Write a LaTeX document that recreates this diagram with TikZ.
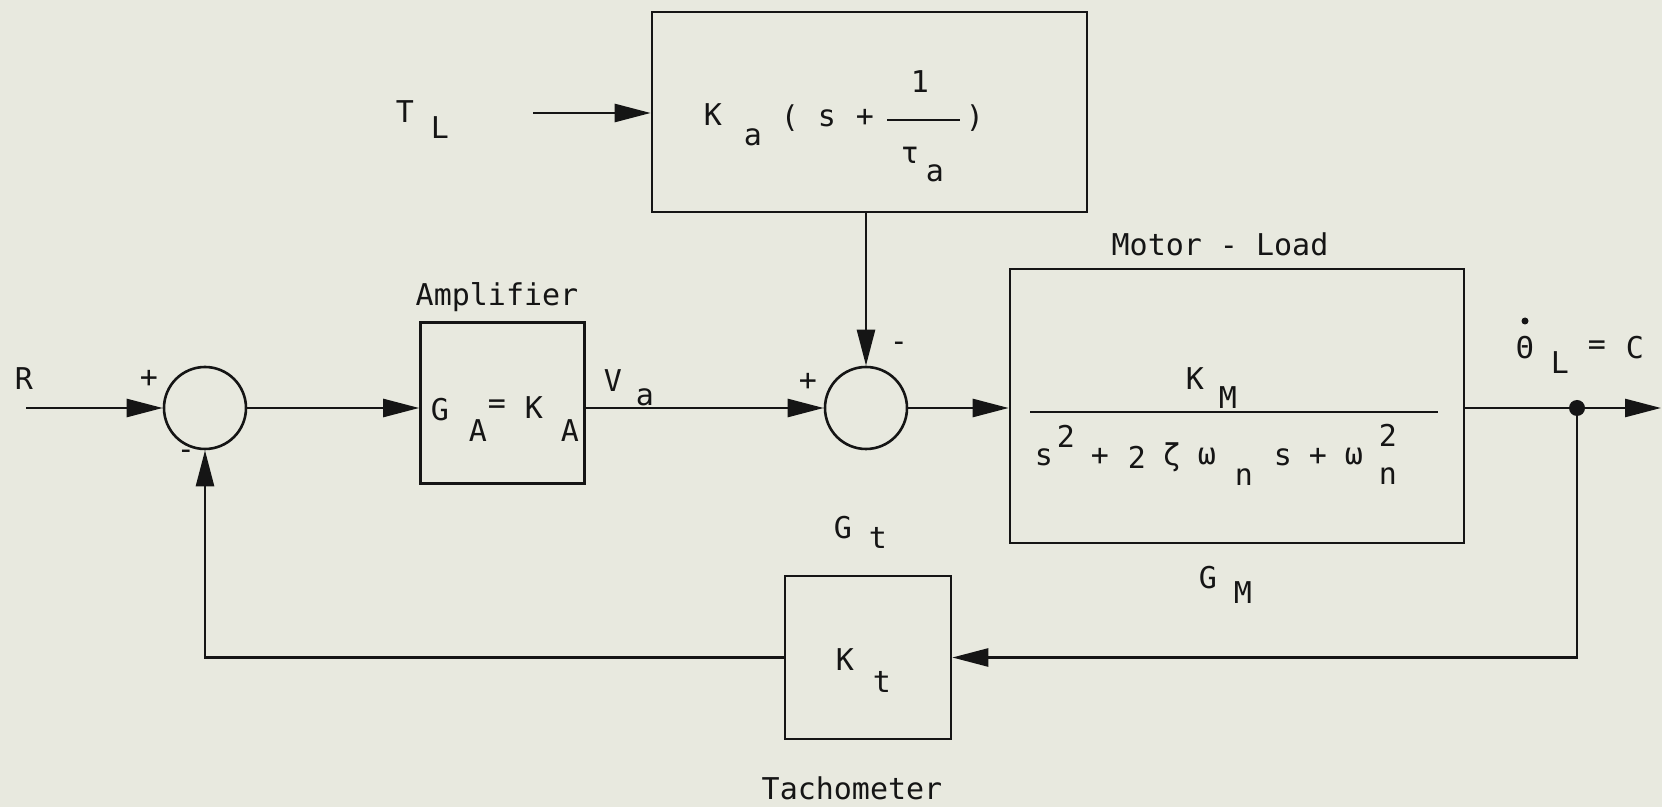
\documentclass[tikz,border=0pt]{standalone}
\usepackage{fontspec}
\setmainfont{DejaVu Sans Mono}
\usetikzlibrary{arrows.meta}
\definecolor{paper}{HTML}{E8E9DF}
\definecolor{ink}{HTML}{151515}
\begin{document}
\begin{tikzpicture}[x=0.5pt,y=-0.5pt,line width=1.3pt,color=ink,
  txt/.style={inner sep=0pt,font=\fontsize{15}{18}\selectfont,text=ink},
  blk/.style={draw=ink,rectangle,inner sep=0pt},
  sumc/.style={draw=ink,circle,inner sep=0pt,minimum size=41pt},
  arr/.style={-{Triangle[length=18pt,width=9pt]}}]
\fill[paper] (0,0) rectangle (1662,807);
\useasboundingbox (0,0) rectangle (1662,807);
% blocks
\node[blk,minimum width=217.5pt,minimum height=100pt] (top) at (869.5,112) {};
\node[blk,minimum width=82pt,minimum height=80.5pt] (amp) at (502.5,403) {};
\node[blk,minimum width=227pt,minimum height=137pt] (motor) at (1237,406) {};
\node[blk,minimum width=83pt,minimum height=81.5pt] (tach) at (868,657.5) {};
\node[sumc] (s1) at (205,408) {};
\node[sumc] (s2) at (866,408) {};
% free ends
\coordinate (rin) at (26,408);
\coordinate (tlin) at (533,113);
\coordinate (jn) at (1577,408);
\coordinate (out) at (1661,408);
% connectors
\draw[arr] (rin) -- (s1.west);
\draw[arr] (s1.east) -- (s1.east -| amp.west);
\draw[arr] (s2.west -| amp.east) -- (s2.west);
\draw[arr] (s2.east) -- (s2.east -| motor.west);
\draw (s2.east -| motor.east) -- (jn);
\draw[arr] (jn) -- (out);
\draw[arr] (jn) |- (tach.east);
\draw[arr] (tach.west) -| (s1.south);
\draw[arr] (tlin) -- (tlin -| top.west);
\draw[arr] (s2.north |- top.south) -- (s2.north);
\fill (jn) circle (8);
% labels
\node[txt] (lR) at (24,379) {R};
\node[txt] (p1) at (149,379) {+};
\node[txt] (m1) at (186,455) {-};
\node[txt] (lamp) at (497,297) {Amplifier};
\node[txt] (ga1) at (440,410) {G};
\node[txt] (ga2) at (478,431) {A};
\node[txt] (ga3) at (497,407) {=};
\node[txt] (ga4) at (534,408) {K};
\node[txt] (ga5) at (570,431) {A};
\node[txt] (va1) at (613,381) {V};
\node[txt] (va2) at (645,397) {a};
\node[txt] (p2) at (808,382) {+};
\node[txt] (m2) at (899,347) {-};
\node[txt] (tl1) at (405,112) {T};
\node[txt] (tl2) at (440,128) {L};
% top block content
\node[txt] (ka1) at (713,115) {K};
\node[txt] (ka2) at (753,137) {a};
\node[txt] (ka3) at (790,118) {(};
\node[txt] (ka4) at (827,118) {s};
\node[txt] (ka5) at (865,118) {+};
\node[txt] (ka6) at (920,82) {1};
\draw (887,120) -- (960,120);
\node[txt] (ka7) at (910,155) {τ};
\node[txt] (ka8) at (935,173) {a};
\node[txt] (ka9) at (975,118) {)};
% motor content
\node[txt] (lmot) at (1220,244) {Motor - Load};
\node[txt] (km1) at (1195,379) {K};
\node[txt] (km2) at (1228,398) {M};
\draw (1030,412) -- (1438,412);
\node[txt] (d1) at (1044,457) {s};
\node[txt] (d2) at (1066,436) {2};
\node[txt] (d3) at (1100,457) {+};
\node[txt] (d4) at (1137,457) {2};
\node[txt] (d5) at (1172,457) {ζ};
\node[txt] (d6) at (1207,457) {ω};
\node[txt] (d7) at (1244,477) {n};
\node[txt] (d8) at (1283,457) {s};
\node[txt] (d9) at (1318,457) {+};
\node[txt] (d10) at (1354,457) {ω};
\node[txt] (d11) at (1388,435) {2};
\node[txt] (d12) at (1388,476) {n};
\node[txt] (gm1) at (1208,578) {G};
\node[txt] (gm2) at (1243,593) {M};
\node[txt] (gt1) at (843,528) {G};
\node[txt] (gt2) at (878,538) {t};
\node[txt] (kt1) at (845,660) {K};
\node[txt] (kt2) at (882,682) {t};
\node[txt] (ltach) at (852,788) {Tachometer};
% output label
\node[txt] (th1) at (1525,348) {Θ};
\fill (1525,321) circle (3.5);
\node[txt] (th2) at (1560,363) {L};
\node[txt] (th3) at (1597,348) {=};
\node[txt] (th4) at (1635,348) {C};
\end{tikzpicture}
\end{document}
